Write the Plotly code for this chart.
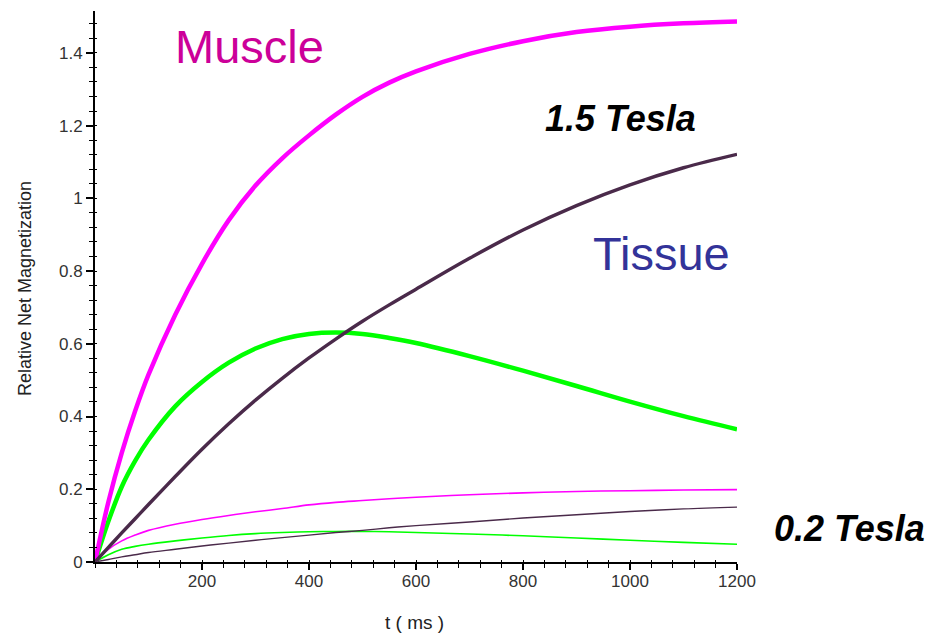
import plotly.graph_objects as go

# Sample times (ms)
t_ms = [0, 25, 50, 75, 100, 150, 200, 250, 300, 350, 400, 450, 500, 550,
        600, 700, 800, 900, 1000, 1100, 1200]

# 1.5 Tesla relative net magnetization
muscle_15 = [0, 0.165, 0.30, 0.415, 0.515, 0.68, 0.82, 0.94, 1.035, 1.11, 1.173,
             1.23, 1.279, 1.318, 1.349, 1.397, 1.432, 1.457, 1.472, 1.481, 1.486]
tissue_15 = [0, 0.04, 0.08, 0.119, 0.158, 0.235, 0.31, 0.38, 0.445, 0.505, 0.561,
             0.613, 0.662, 0.707, 0.75, 0.835, 0.913, 0.98, 1.037, 1.084, 1.121]
contrast_15 = [0, 0.112, 0.207, 0.278, 0.336, 0.428, 0.495, 0.548, 0.587, 0.613, 0.627,
               0.631, 0.627, 0.616, 0.602, 0.566, 0.526, 0.484, 0.441, 0.401, 0.365]

# 0.2 Tesla relative net magnetization
muscle_02 = [0, 0.035, 0.058, 0.074, 0.087, 0.104, 0.117, 0.128, 0.138, 0.147, 0.157,
             0.164, 0.169, 0.174, 0.178, 0.185, 0.19, 0.194, 0.196, 0.198, 0.199]
tissue_02 = [0, 0.007, 0.014, 0.02, 0.026, 0.035, 0.044, 0.052, 0.06, 0.067, 0.074,
             0.081, 0.087, 0.094, 0.1, 0.11, 0.121, 0.13, 0.139, 0.146, 0.151]
contrast_02 = [0, 0.02, 0.035, 0.043, 0.049, 0.058, 0.066, 0.073, 0.078, 0.081, 0.083,
               0.084, 0.084, 0.083, 0.081, 0.077, 0.072, 0.066, 0.06, 0.054, 0.049]

x_ticks = [200, 400, 600, 800, 1000, 1200]
y_ticks = [0, 0.2, 0.4, 0.6, 0.8, 1.0, 1.2, 1.4]
y_tick_text = ["0", "0.2", "0.4", "0.6", "0.8", "1", "1.2", "1.4"]

MAGENTA = "#FF00FF"
GREEN = "#00FF00"
PURPLE = "#4A2A4A"
FONT = "Liberation Sans, Arial, sans-serif"

fig = go.Figure()

series = [
    (contrast_02, GREEN, 1.6),
    (muscle_02, MAGENTA, 1.6),
    (tissue_02, PURPLE, 1.4),
    (contrast_15, GREEN, 4.5),
    (muscle_15, MAGENTA, 4.5),
    (tissue_15, PURPLE, 3.4),
]
for values, color, width in series:
    fig.add_trace(go.Scatter(
        x=t_ms, y=values, mode="lines",
        line=dict(color=color, width=width, shape="spline", smoothing=1.0),
        hoverinfo="skip", showlegend=False,
    ))

# empty trace so the overlay axes (inner half of the crossing ticks) are drawn
fig.add_trace(go.Scatter(x=[], y=[], xaxis="x2", yaxis="y2", showlegend=False))

tick_font = dict(family=FONT, size=17, color="#333333")

fig.update_layout(
    width=933, height=635,
    margin=dict(l=95, r=196, t=11, b=73),
    paper_bgcolor="white", plot_bgcolor="white",
    showlegend=False,
    xaxis=dict(
        range=[0, 1200], showline=True, linecolor="black", linewidth=2,
        showgrid=False, zeroline=False,
        tickmode="array", tickvals=x_ticks,
        ticks="outside", ticklen=6, tickwidth=1.5, tickcolor="black",
        minor=dict(tickmode="linear", tick0=0, dtick=40, ticks="outside",
                   ticklen=4, tickwidth=1.2, tickcolor="black"),
        tickfont=tick_font, ticklabelstandoff=-3,
    ),
    yaxis=dict(
        range=[0, 1.515], showline=True, linecolor="black", linewidth=2,
        showgrid=False, zeroline=False,
        tickmode="array", tickvals=y_ticks, ticktext=y_tick_text,
        ticks="outside", ticklen=7, tickwidth=1.5, tickcolor="black",
        minor=dict(tickmode="linear", tick0=0, dtick=0.04, ticks="outside",
                   ticklen=4, tickwidth=1.2, tickcolor="black"),
        tickfont=tick_font,
    ),
    xaxis2=dict(
        range=[0, 1200], overlaying="x", anchor="y2", side="bottom",
        showline=False, showgrid=False, zeroline=False, showticklabels=False,
        tickmode="linear", tick0=0, dtick=40,
        ticks="inside", ticklen=2, tickwidth=1.2, tickcolor="black",
    ),
    yaxis2=dict(
        range=[0, 1.515], overlaying="y", anchor="x2", side="left",
        showline=False, showgrid=False, zeroline=False, showticklabels=False,
        tickmode="linear", tick0=0, dtick=0.04,
        ticks="inside", ticklen=2, tickwidth=1.2, tickcolor="black",
    ),
)

labels = [
    dict(text="Muscle", x=0.2414, y=0.9347,
         font=dict(family=FONT, size=47, color="#CC0099")),
    dict(text="1.5 Tesla", x=0.8178, y=0.804,
         font=dict(family=FONT, size=36, color="black", weight="bold", style="italic")),
    dict(text="Tissue", x=0.8827, y=0.559,
         font=dict(family=FONT, size=47, color="#333399")),
    dict(text="0.2 Tesla", x=1.176, y=0.0599,
         font=dict(family=FONT, size=36, color="black", weight="bold", style="italic")),
    dict(text="Relative Net Magnetization", x=-0.109, y=0.4955, textangle=-90,
         font=dict(family=FONT, size=18, color="#222222")),
    dict(text="t ( ms )", x=0.498, y=-0.1107,
         font=dict(family=FONT, size=19, color="#222222")),
]
for a in labels:
    fig.add_annotation(xref="paper", yref="paper", showarrow=False,
                       xanchor="center", yanchor="middle", **a)

fig.write_html("out.html")
